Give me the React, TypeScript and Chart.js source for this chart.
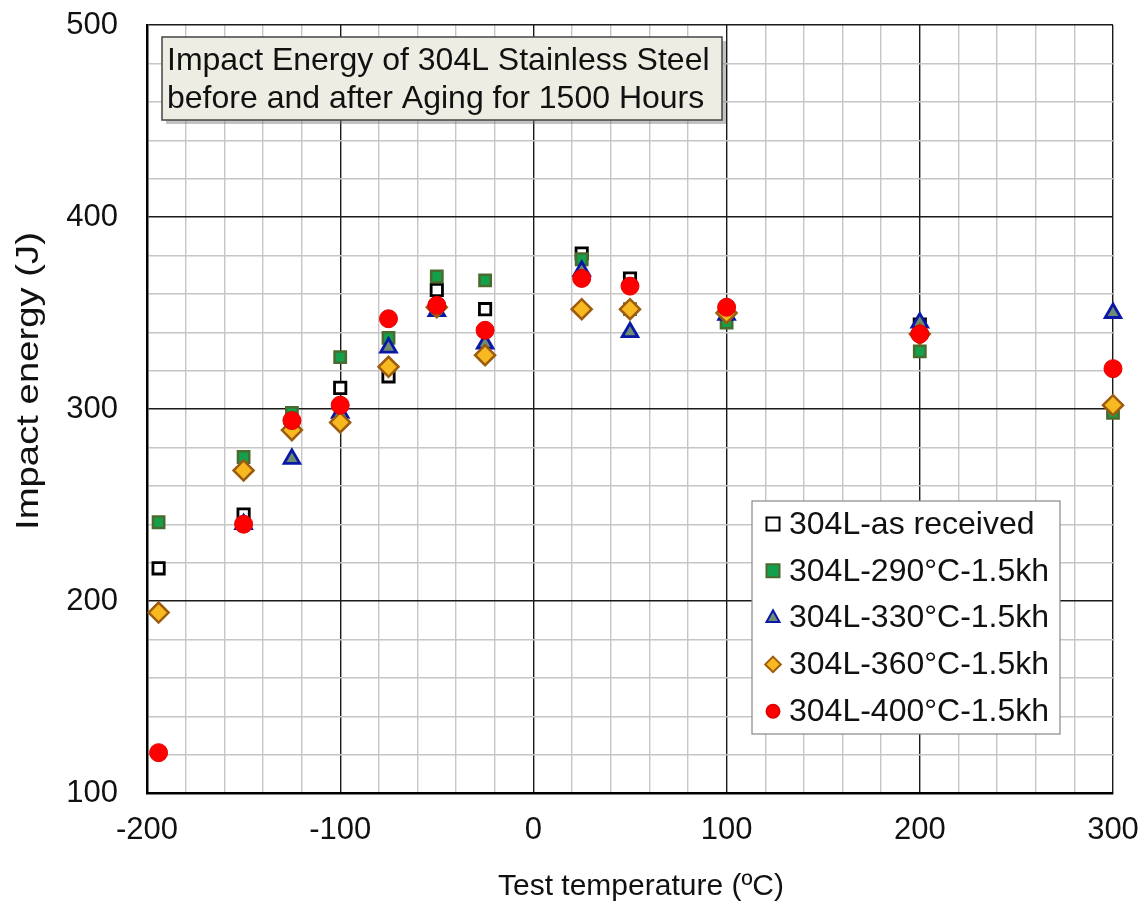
import React, { useEffect, useRef } from "react";
import { Chart, registerables } from "chart.js";

Chart.register(...registerables);

const temperatures = [-194, -150, -125, -100, -75, -50, -25, 25, 50, 100, 200, 300];
const asReceived = [217, 245, null, 311, 317, 362, 352, 381, 368, 352, 344, null];
const aged290 = [241, 275, 298, 327, 337, 369, 367, 378, 352, 345, 330, 298];
const aged330 = [null, 240, 274, 298, 332, 351, 334, 372, 340, 349, 345, 350];
const aged360 = [194, 268, 289, 293, 322, 353, 328, 352, 352, 350, 339, 302];
const aged400 = [121, 240, 294, 302, 347, 354, 341, 368, 364, 353, 339, 321];

const seriesLabels = [
  "304L-as received",
  "304L-290°C-1.5kh",
  "304L-330°C-1.5kh",
  "304L-360°C-1.5kh",
  "304L-400°C-1.5kh",
];
const titleLines = [
  "Impact Energy of 304L Stainless Steel",
  "before and after Aging for 1500 Hours",
];
const xTitle = "Test temperature (ºC)";
const yTitle = "Impact energy (J)";

const FONT = "'Liberation Sans', Arial, sans-serif";

function toPoints(vals: (number | null)[]) {
  const pts: { x: number; y: number }[] = [];
  vals.forEach((v, i) => {
    if (v !== null) pts.push({ x: temperatures[i], y: v });
  });
  return pts;
}

function drawMarker(ctx: CanvasRenderingContext2D, style: string, x: number, y: number, r: number) {
  ctx.beginPath();
  if (style === "rect") {
    ctx.rect(x - r, y - r, 2 * r, 2 * r);
  } else if (style === "triangle") {
    const h = r * 1.8;
    ctx.moveTo(x, y - h * 0.62);
    ctx.lineTo(x + r, y + h * 0.38);
    ctx.lineTo(x - r, y + h * 0.38);
    ctx.closePath();
  } else if (style === "rectRot") {
    ctx.moveTo(x, y - r * 1.2);
    ctx.lineTo(x + r * 1.2, y);
    ctx.lineTo(x, y + r * 1.2);
    ctx.lineTo(x - r * 1.2, y);
    ctx.closePath();
  } else {
    ctx.arc(x, y, r, 0, Math.PI * 2);
  }
  ctx.fill();
  ctx.stroke();
}

const overlayPlugin = {
  id: "overlay",
  afterDraw(chart: any) {
    const ctx: CanvasRenderingContext2D = chart.ctx;
    ctx.save();
    // Axis titles
    ctx.fillStyle = "#111";
    ctx.textBaseline = "middle";
    ctx.textAlign = "center";
    ctx.font = `30px ${FONT}`;
    ctx.fillText(xTitle, 641, 887);

    ctx.save();
    ctx.translate(29, 381);
    ctx.rotate(-Math.PI / 2);
    ctx.font = `31px ${FONT}`;
    const w = ctx.measureText(yTitle).width;
    ctx.scale(298 / w, 1);
    ctx.fillText(yTitle, 0, 0);
    ctx.restore();

    // Title box
    const bx = 162, by = 37, bw = 560, bh = 83;
    ctx.fillStyle = "rgba(120,120,120,0.45)";
    ctx.fillRect(bx + 4, by + 4, bw, bh);
    ctx.fillStyle = "#eeede3";
    ctx.fillRect(bx, by, bw, bh);
    ctx.strokeStyle = "#444";
    ctx.lineWidth = 1.5;
    ctx.strokeRect(bx, by, bw, bh);
    ctx.fillStyle = "#111";
    ctx.font = `32px ${FONT}`;
    ctx.textBaseline = "middle";
    ctx.textAlign = "left";
    ctx.fillText(titleLines[0], bx + 5, by + 24);
    ctx.fillText(titleLines[1], bx + 5, by + 62);

    // Legend box
    const lx = 752, ly = 501, lw = 308, lh = 233;
    ctx.fillStyle = "#fff";
    ctx.fillRect(lx, ly, lw, lh);
    ctx.strokeStyle = "#888";
    ctx.lineWidth = 1.2;
    ctx.strokeRect(lx, ly, lw, lh);
    chart.data.datasets.forEach((ds: any, i: number) => {
      const cy = ly + 23 + i * 46.8;
      ctx.fillStyle = ds.backgroundColor;
      ctx.strokeStyle = ds.borderColor;
      ctx.lineWidth = 2;
      drawMarker(ctx, ds.pointStyle, lx + 21, cy, 6.5);
      ctx.fillStyle = "#111";
      ctx.font = `32px ${FONT}`;
      ctx.textBaseline = "middle";
      ctx.textAlign = "left";
      ctx.fillText(ds.label, lx + 37, cy + 1);
    });
    ctx.restore();
  },
};

export default function App() {
  const ref = useRef<HTMLCanvasElement | null>(null);

  useEffect(() => {
    document.body.style.margin = "0";
    const canvas = ref.current;
    if (!canvas) return;
    const gridColor = (c: any) =>
      c.tick && Math.abs(c.tick.value % 100) < 1e-6 ? "#1a1a1a" : "#c6c6c6";
    const tickCb = (v: any) => (Math.abs(Number(v) % 100) < 1e-6 ? String(v) : "");

    const common = { borderWidth: 2.5, clip: false as any };

    const chart = new Chart(canvas, {
      type: "scatter",
      data: {
        datasets: [
          {
            ...common,
            label: seriesLabels[0],
            data: toPoints(asReceived),
            pointStyle: "rect",
            backgroundColor: "#ffffff",
            borderColor: "#000000",
            borderWidth: 2.8,
            pointRadius: 8,
            order: 5,
          },
          {
            ...common,
            label: seriesLabels[1],
            data: toPoints(aged290),
            pointStyle: "rect",
            backgroundColor: "#14a04a",
            borderColor: "#4a6b30",
            pointRadius: 8,
            order: 4,
          },
          {
            ...common,
            label: seriesLabels[2],
            data: toPoints(aged330),
            pointStyle: "triangle",
            backgroundColor: "#6f8c72",
            borderColor: "#0a18a8",
            borderWidth: 2.8,
            pointRadius: 9,
            order: 3,
          },
          {
            ...common,
            label: seriesLabels[3],
            data: toPoints(aged360),
            pointStyle: "rectRot",
            backgroundColor: "#f8b820",
            borderColor: "#9c5c10",
            pointRadius: 10,
            order: 2,
          },
          {
            ...common,
            label: seriesLabels[4],
            data: toPoints(aged400),
            pointStyle: "circle",
            backgroundColor: "#ff0000",
            borderColor: "#e00000",
            borderWidth: 1,
            pointRadius: 9,
            order: 1,
          },
        ] as any,
      },
      options: {
        animation: false,
        responsive: false,
        maintainAspectRatio: false,
        layout: { padding: { top: 25, right: 33, left: 0, bottom: 0 } },
        plugins: {
          legend: { display: false },
          tooltip: { enabled: false },
        },
        scales: {
          x: {
            type: "linear",
            min: -200,
            max: 300,
            afterFit: (s: any) => {
              s.height = 114;
              s.paddingLeft = 0;
              s.paddingRight = 0;
            },
            ticks: {
              stepSize: 20,
              autoSkip: false,
              maxRotation: 0,
              padding: 19,
              color: "#111",
              font: { family: FONT, size: 31, lineHeight: 1.2 },
              callback: tickCb,
            },
            grid: { color: gridColor, lineWidth: 1.4, drawTicks: false },
            border: { color: "#000", width: 2.5 },
            title: { display: false },
          },
          y: {
            type: "linear",
            min: 100,
            max: 500,
            afterFit: (s: any) => {
              s.width = 147;
              s.paddingTop = 0;
              s.paddingBottom = 0;
            },
            ticks: {
              stepSize: 20,
              autoSkip: false,
              padding: 29,
              color: "#111",
              font: { family: FONT, size: 31, lineHeight: 1.2 },
              callback: tickCb,
            },
            grid: { color: gridColor, lineWidth: 1.4, drawTicks: false },
            border: { color: "#000", width: 2.5 },
            title: { display: false },
          },
        },
      },
      plugins: [overlayPlugin],
    });
    return () => chart.destroy();
  }, []);

  return (
    <div style={{ width: 1146, height: 907 }}>
      <canvas ref={ref} width={1146} height={907} style={{ display: "block", width: 1146, height: 907 }} />
    </div>
  );
}
